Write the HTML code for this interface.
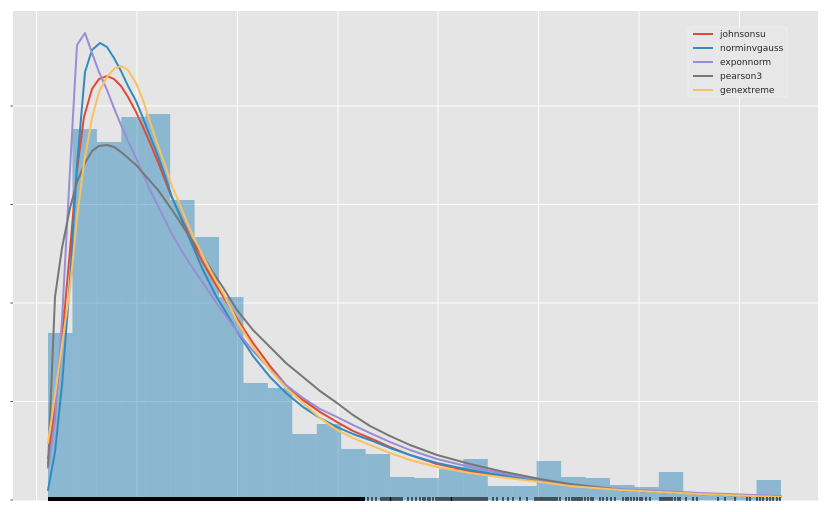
<!DOCTYPE html>
<html><head><meta charset="utf-8"><style>
html,body{margin:0;padding:0;background:#fff;}
svg{display:block;}
</style></head><body>
<svg width="832" height="512" viewBox="0 0 832 512" xmlns="http://www.w3.org/2000/svg">
<rect x="0" y="0" width="832" height="512" fill="#ffffff"/>
<rect x="13" y="11" width="805" height="489.5" fill="#e5e5e5"/>
<g stroke="#ffffff" stroke-width="1">
<line x1="36.5" y1="11" x2="36.5" y2="500.5"/>
<line x1="137" y1="11" x2="137" y2="500.5"/>
<line x1="237.5" y1="11" x2="237.5" y2="500.5"/>
<line x1="338" y1="11" x2="338" y2="500.5"/>
<line x1="438" y1="11" x2="438" y2="500.5"/>
<line x1="538.5" y1="11" x2="538.5" y2="500.5"/>
<line x1="639" y1="11" x2="639" y2="500.5"/>
<line x1="739.5" y1="11" x2="739.5" y2="500.5"/>
<line x1="13" y1="106" x2="818" y2="106"/>
<line x1="13" y1="204.5" x2="818" y2="204.5"/>
<line x1="13" y1="303" x2="818" y2="303"/>
<line x1="13" y1="401.5" x2="818" y2="401.5"/>
</g>
<g stroke="#555" stroke-width="1">
<line x1="10.5" y1="106" x2="13" y2="106"/>
<line x1="10.5" y1="204.5" x2="13" y2="204.5"/>
<line x1="10.5" y1="303" x2="13" y2="303"/>
<line x1="10.5" y1="401.5" x2="13" y2="401.5"/>
<line x1="10.5" y1="500" x2="13" y2="500"/>
</g>
<g fill="#348ABD" fill-opacity="0.5">
<rect x="48" y="333" width="24.43" height="167.5"/>
<rect x="72.43" y="129" width="24.43" height="371.5"/>
<rect x="96.87" y="142" width="24.43" height="358.5"/>
<rect x="121.3" y="117" width="24.43" height="383.5"/>
<rect x="145.73" y="114" width="24.43" height="386.5"/>
<rect x="170.17" y="200" width="24.43" height="300.5"/>
<rect x="194.6" y="237" width="24.43" height="263.5"/>
<rect x="219.03" y="297" width="24.43" height="203.5"/>
<rect x="243.47" y="383" width="24.43" height="117.5"/>
<rect x="267.9" y="388" width="24.43" height="112.5"/>
<rect x="292.33" y="434" width="24.43" height="66.5"/>
<rect x="316.77" y="424" width="24.43" height="76.5"/>
<rect x="341.2" y="449" width="24.43" height="51.5"/>
<rect x="365.63" y="454" width="24.43" height="46.5"/>
<rect x="390.07" y="477" width="24.43" height="23.5"/>
<rect x="414.5" y="478" width="24.43" height="22.5"/>
<rect x="438.93" y="469" width="24.43" height="31.5"/>
<rect x="463.37" y="459" width="24.43" height="41.5"/>
<rect x="487.8" y="486" width="24.43" height="14.5"/>
<rect x="512.23" y="486" width="24.43" height="14.5"/>
<rect x="536.67" y="461" width="24.43" height="39.5"/>
<rect x="561.1" y="477" width="24.43" height="23.5"/>
<rect x="585.53" y="478" width="24.43" height="22.5"/>
<rect x="609.97" y="485" width="24.43" height="15.5"/>
<rect x="634.4" y="487" width="24.43" height="13.5"/>
<rect x="658.83" y="472" width="24.43" height="28.5"/>
<rect x="683.27" y="493" width="24.43" height="7.5"/>
<rect x="707.7" y="494" width="24.43" height="6.5"/>
<rect x="732.13" y="494" width="24.43" height="6.5"/>
<rect x="756.57" y="480" width="24.43" height="20.5"/>
</g>
<g fill="none" stroke-width="2" stroke-linejoin="round" stroke-linecap="round">
<polyline stroke="#E24A33" points="48,458 55,410 62,340 70,250 77,170 84,117 92,89 99,79 107,76 114,79 121,86 128,97 136,112 143,127 150,143 158,162 165,180 172,198 180,215 187,230 194,245 202,261 209,273 216,285 224,298 231,309 238,320 253,343 270,366 286,385 303,400 320,412 337,422 353,431 370,438 390,447 410,455 437,464 470,471 500,476 540,481 570,485 620,490 700,494 781,497"/>
<polyline stroke="#348ABD" points="48,490 55,452 62,385 70,280 77,165 85,72 92,50 100,43 107,47 114,58 121,71 128,86 136,101 143,118 150,136 158,156 165,176 172,197 180,216 187,233 194,249 202,268 209,282 216,296 224,309 231,321 238,333 253,356 270,377 286,393 303,407 320,418 337,427 353,434 370,440 390,448 410,455 437,463 470,470 500,475 540,481 570,485 620,490 700,494 781,497"/>
<polyline stroke="#988ED5" points="48,468 55,420 62,320 70,170 77,45 85,33 92,53 99,72 107,90 114,108 121,125 128,141 136,158 143,174 150,190 158,206 165,220 172,234 180,248 190,264 203,283 220,308 237,331 253,351 270,369 286,385 303,398 320,409 337,417 353,425 370,433 390,442 410,450 437,459 470,467 500,473 540,480 570,484 620,489 700,493 781,496"/>
<polyline stroke="#777777" points="48,466 55,297 62,248 70,208 77,182 85,163 92,151 99,146 107,145 114,147 121,152 128,158 136,165 143,173 150,181 158,190 165,200 172,210 180,222 187,233 194,243 202,254 209,266 216,277 224,289 237,310 253,330 270,347 286,363 303,377 320,391 337,403 353,415 370,426 390,436 410,445 437,455 470,464 500,471 540,479 570,484 620,490 700,494 781,497"/>
<polyline stroke="#FBC15E" points="48,443 55,395 62,345 70,288 77,218 84,163 92,118 99,92 107,77 114,69 121,66 128,70 136,83 143,100 150,122 157,143 165,165 172,186 180,205 187,222 194,238 202,254 209,268 216,281 224,295 237,321 253,347 270,370 286,388 303,403 320,418 337,430 353,438 370,445 390,453 410,460 437,467 470,473 500,477 540,482 570,486 620,490 700,494 781,497"/>
</g>
<rect x="48" y="497" width="317" height="4" fill="#000"/>
<g stroke="#000" stroke-width="1.1">
<path d="M368 497v4M372 497v4M376 497v4M381 497v4M383 497v4M385 497v4M387 497v4M389 497v4M390.5 497v4M392 497v4M394 497v4M396 497v4M398 497v4M400 497v4M402 497v4M408 497v4M412 497v4M416 497v4M420 497v4M423 497v4M425 497v4M428 497v4M430 497v4M433 497v4M436 497v4M438 497v4M440 497v4M442 497v4M444 497v4M446 497v4M448 497v4M450 497v4M451.5 497v4M453 497v4M455 497v4M457 497v4M459 497v4M461 497v4M463 497v4M465 497v4M467 497v4M469 497v4M471 497v4M473 497v4M475 497v4M477 497v4M479 497v4M481 497v4M483 497v4M485 497v4M487 497v4M493 497v4M497 497v4M503 497v4M508 497v4M513 497v4M520 497v4M527 497v4M535 497v4M537 497v4M539 497v4M541 497v4M543 497v4M545 497v4M547 497v4M549 497v4M551 497v4M553 497v4M555 497v4M557 497v4M560 497v4M566 497v4M569 497v4M572 497v4M574 497v4M576 497v4M578 497v4M580 497v4M582 497v4M585 497v4M588 497v4M591 497v4M593 497v4M600 497v4M603 497v4M607 497v4M611 497v4M615 497v4M623 497v4M626 497v4M628 497v4M631 497v4M634 497v4M637 497v4M640 497v4M642 497v4M646 497v4M650 497v4M660 497v4M662 497v4M664 497v4M666 497v4M668 497v4M670 497v4M672 497v4M675 497v4M678 497v4M680 497v4M686 497v4M693 497v4M697 497v4M718 497v4M725 497v4M735 497v4M747 497v4M750 497v4M757 497v4M760 497v4M763 497v4M767 497v4M770 497v4M773 497v4M777 497v4M780 497v4"/>
</g>
<rect x="688" y="27" width="99" height="70" fill="#e7e7e7" stroke="#efefef" stroke-width="0.8" rx="2"/>
<g stroke-width="2">
<line x1="693" y1="34" x2="713" y2="34" stroke="#E24A33"/>
<line x1="693" y1="48" x2="713" y2="48" stroke="#348ABD"/>
<line x1="693" y1="62" x2="713" y2="62" stroke="#988ED5"/>
<line x1="693" y1="76" x2="713" y2="76" stroke="#777777"/>
<line x1="693" y1="90" x2="713" y2="90" stroke="#FBC15E"/>
</g>
<g font-family="'DejaVu Sans', 'Liberation Sans', sans-serif" font-size="9" fill="#262626">
<text x="720" y="37.2">johnsonsu</text>
<text x="720" y="51.2">norminvgauss</text>
<text x="720" y="65.2">exponnorm</text>
<text x="720" y="79.2">pearson3</text>
<text x="720" y="93.2">genextreme</text>
</g>
</svg>
</body></html>
